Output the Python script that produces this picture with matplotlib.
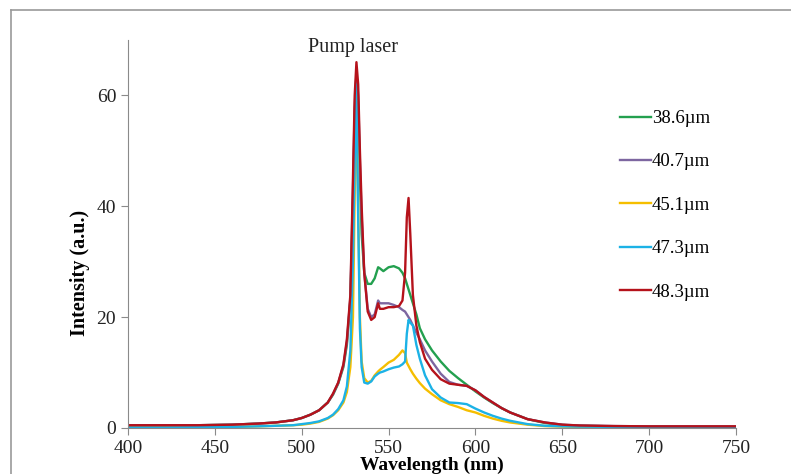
import matplotlib
matplotlib.use("Agg")
import matplotlib.pyplot as plt
from matplotlib.lines import Line2D

plt.rcParams['font.family'] = ['Liberation Serif', 'DejaVu Serif']

# wavelength grid (nm) shared by all spectra
wavelength = [400, 420, 440, 460, 475, 485, 495, 500, 505, 510, 515, 518, 521, 524,
              526, 528, 529.5, 530.5, 531.5, 532.5, 533.5, 534.5, 536, 538, 540, 542,
              544, 545, 547, 550, 553, 556, 558, 559.5, 560.5, 561.5, 562.5, 564, 566,
              568, 571, 575, 580, 585, 590, 595, 600, 605, 610, 615, 620, 630, 640,
              650, 660, 680, 700, 725, 750]

labels = ['38.6\u00b5m', '40.7\u00b5m', '45.1\u00b5m', '47.3\u00b5m', '48.3\u00b5m']
colors = ['#23a04f', '#7d66a0', '#f5be00', '#1cb2e6', '#b5121b']

i_386 = [0.4, 0.4, 0.5, 0.6, 0.8, 1.0, 1.4, 1.8, 2.4, 3.2, 4.6, 6.0, 8.0, 11,
         15, 23, 40, 56, 64, 58, 45, 35, 28, 26, 26, 27,
         29, 28.8, 28.3, 29, 29.2, 28.8, 28, 27, 26, 25, 24, 22.5, 20.5,
         18, 16, 14, 12, 10.3, 9, 7.8, 6.6, 5.5, 4.5, 3.6, 2.8, 1.6, 0.9,
         0.55, 0.4, 0.3, 0.25, 0.2, 0.2]
i_407 = [0.5, 0.5, 0.5, 0.6, 0.8, 1.0, 1.4, 1.8, 2.4, 3.2, 4.6, 6.1, 8.1, 11.3,
         15.5, 23.5, 43, 58, 64, 60, 48, 38, 28, 21.5, 20, 20.5,
         23, 22.5, 22.5, 22.5, 22.2, 21.8, 21.3, 21, 20.5, 20, 19.5, 18.5, 17.2,
         16, 14, 12, 9.8, 8.3, 7.8, 7.6, 6.8, 5.6, 4.6, 3.6, 2.8, 1.6, 1.0,
         0.6, 0.45, 0.35, 0.3, 0.3, 0.3]
i_451 = [0.1, 0.1, 0.15, 0.2, 0.3, 0.4, 0.5, 0.6, 0.8, 1.1, 1.7, 2.3, 3.2, 4.6,
         6.5, 11, 20, 42, 60, 40, 20, 12, 9, 8.2, 8.5, 9.5,
         10.2, 10.5, 11, 11.8, 12.3, 13.2, 14, 13.5, 11.8, 11.2, 10.6, 9.8, 8.9,
         8.1, 7.1, 6.1, 5, 4.3, 3.8, 3.2, 2.8, 2.2, 1.7, 1.3, 1.0, 0.6, 0.35,
         0.25, 0.2, 0.15, 0.15, 0.1, 0.1]
i_473 = [0.1, 0.1, 0.15, 0.2, 0.3, 0.4, 0.5, 0.7, 0.9, 1.2, 1.8, 2.4, 3.4, 5.0,
         7.5, 14, 30, 48, 62, 38, 18, 11, 8.2, 8, 8.4, 9.3,
         9.8, 10, 10.2, 10.6, 10.9, 11.1, 11.5, 12, 17, 19.5, 19, 18.5, 15,
         12.5, 9.5, 7, 5.5, 4.6, 4.5, 4.3, 3.5, 2.8, 2.2, 1.7, 1.3, 0.7, 0.4,
         0.3, 0.25, 0.2, 0.15, 0.1, 0.1]
i_483 = [0.5, 0.5, 0.5, 0.6, 0.8, 1.0, 1.4, 1.8, 2.4, 3.2, 4.6, 6.2, 8.2, 11.5,
         16, 24, 45, 60, 66, 62, 50, 40, 28, 21, 19.5, 20,
         22.5, 21.5, 21.5, 21.8, 21.8, 22, 23, 28, 38, 41.5, 35, 24, 18.5,
         15.5, 12.5, 10.5, 8.8, 8.0, 7.8, 7.6, 6.8, 5.6, 4.6, 3.6, 2.8, 1.6, 1.0,
         0.6, 0.45, 0.35, 0.3, 0.3, 0.3]
series = [i_386, i_407, i_451, i_473, i_483]

fig = plt.figure(figsize=(7.91, 4.74), dpi=100)
ax = fig.add_axes([128 / 791, 1 - 428 / 474, 608 / 791, 388 / 474])

for vals, lab, col in zip(series, labels, colors):
    ax.plot(wavelength, vals, color=col, lw=1.7, label=lab)

ax.set_xlim(400, 750)
ax.set_ylim(0, 70)
ax.set_xticks(range(400, 751, 50))
ax.set_yticks([0, 20, 40, 60])

for s in ['top', 'right']:
    ax.spines[s].set_visible(False)
for s in ['left', 'bottom']:
    ax.spines[s].set_color('#8a8a8a')
ax.tick_params(colors='#8a8a8a', labelcolor='#222222', labelsize=14, length=5, direction='out')

ax.set_xlabel('Wavelength (nm)', fontsize=14, fontweight='bold')
ax.xaxis.set_label_coords(0.5, -0.074)
ax.set_ylabel('Intensity (a.u.)', fontsize=14.5, fontweight='bold')
ax.yaxis.set_label_coords(-0.062, 0.40)

ax.text(529.5, 68.6, 'Pump laser', fontsize=14.5, ha='center', va='center', color='#222222')

ax.legend(loc='upper left', bbox_to_anchor=(620 / 791, 1 - 110 / 474), bbox_transform=fig.transFigure,
          frameon=False, fontsize=13.5, handlelength=1.65, handletextpad=0.05,
          labelspacing=1.4, borderpad=0, borderaxespad=0)

# grey frame around the figure (partly cropped in the original)
fig.add_artist(Line2D([11 / 791, 11 / 791], [0, 1 - 10 / 474], color='#9a9a9a', lw=1.2, transform=fig.transFigure))
fig.add_artist(Line2D([11 / 791, 1], [1 - 10 / 474, 1 - 10 / 474], color='#9a9a9a', lw=1.2, transform=fig.transFigure))

fig.savefig('out.png', dpi=100)
